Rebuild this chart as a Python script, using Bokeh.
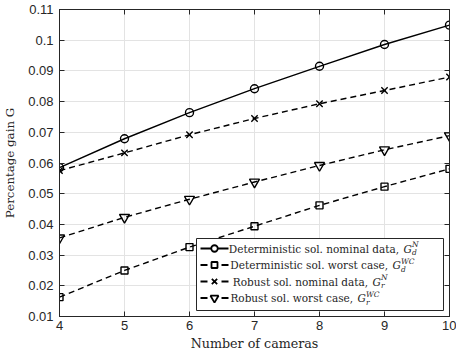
from bokeh.plotting import figure
from bokeh.models import FixedTicker, LinearAxis, Range1d, Label, CustomJSTickFormatter
from bokeh.embed import file_html
from bokeh.resources import INLINE

# ---------------- data ----------------
cameras = [4, 5, 6, 7, 8, 9, 10]
det_nominal = [0.0585, 0.0679, 0.0764, 0.0842, 0.0915, 0.0986, 0.1049]
det_worst = [0.0163, 0.0250, 0.0326, 0.0394, 0.0462, 0.0523, 0.0581]
rob_nominal = [0.0575, 0.0633, 0.0692, 0.0745, 0.0793, 0.0836, 0.0880]
rob_worst = [0.0356, 0.0423, 0.0482, 0.0538, 0.0592, 0.0643, 0.0689]

x_ticks = [4, 5, 6, 7, 8, 9, 10]
y_ticks = [0.01, 0.02, 0.03, 0.04, 0.05, 0.06, 0.07, 0.08, 0.09, 0.10, 0.11]
y_tick_labels = ["0.01", "0.02", "0.03", "0.04", "0.05", "0.06", "0.07",
                 "0.08", "0.09", "0.1", "0.11"]

legend_main = ["Deterministic sol. nominal data, ",
               "Deterministic sol. worst case, ",
               "Robust sol. nominal data, ",
               "Robust sol. worst case, "]
legend_sub = ["d", "d", "r", "r"]
legend_sup = ["N", "WC", "N", "WC"]

# ---------------- layout (pixels) ----------------
W, H = 456, 356
FL, FR, FT, FB = 59, 449, 9, 316
X0, X1, Y0, Y1 = 4, 10, 0.01, 0.11


def dx(px):
    return X0 + (px - FL) / (FR - FL) * (X1 - X0)


def dy(py):
    return Y1 - (py - FT) / (FB - FT) * (Y1 - Y0)


TICK_FONT = "Liberation Sans"
SERIF = "DejaVu Serif"
INK = "#262626"

p = figure(width=W, height=H, output_backend="svg", toolbar_location=None,
           x_range=Range1d(X0, X1), y_range=Range1d(Y0, Y1),
           min_border_left=FL, min_border_right=W - FR,
           min_border_top=FT, min_border_bottom=H - FB)
p.background_fill_color = "white"
p.border_fill_color = "white"
p.outline_line_color = INK
p.outline_line_width = 1

for ax in (p.xaxis[0], p.yaxis[0]):
    ax.major_tick_in = 5
    ax.major_tick_out = 0
    ax.minor_tick_in = 0
    ax.minor_tick_out = 0
    ax.axis_line_color = INK
    ax.major_tick_line_color = INK
    ax.major_label_text_font = TICK_FONT
    ax.major_label_text_font_size = "13px"
    ax.major_label_text_color = INK
    ax.axis_label_text_font = SERIF
    ax.axis_label_text_font_style = "normal"
    ax.axis_label_text_color = INK

p.xaxis.ticker = FixedTicker(ticks=x_ticks)
p.yaxis.ticker = FixedTicker(ticks=y_ticks)
p.yaxis.major_label_overrides = {t: l for t, l in zip(y_ticks, y_tick_labels)}
p.xaxis.major_label_standoff = 4
p.yaxis.major_label_standoff = 6

p.xaxis.axis_label = "Number of cameras"
p.xaxis.axis_label_text_font_size = "12.7px"
p.xaxis.axis_label_standoff = 3
p.yaxis.axis_label = "Percentage gain G"
p.yaxis.axis_label_text_font_size = "11.8px"
p.yaxis.axis_label_standoff = 8

# box ticks on top/right
for loc, tick_vals in (("above", x_ticks), ("right", y_ticks)):
    a = LinearAxis(ticker=FixedTicker(ticks=tick_vals),
                   formatter=CustomJSTickFormatter(code="return ''"))
    a.major_tick_in = 5
    a.major_tick_out = 0
    a.minor_tick_in = 0
    a.minor_tick_out = 0
    a.major_label_standoff = 0
    a.axis_line_color = INK
    a.major_tick_line_color = INK
    p.add_layout(a, loc)

p.grid.grid_line_color = "#e3e3e3"
p.grid.grid_line_width = 1
p.xgrid.ticker = FixedTicker(ticks=x_ticks)
p.ygrid.ticker = FixedTicker(ticks=y_ticks)

# ---------------- series ----------------
series = [
    (det_nominal, "solid", "circle", 8),
    (det_worst, "6 4", "square", 7),
    (rob_nominal, "6 4", "x", 9),
    (rob_worst, "6 4", "inverted_triangle", 10),
]
for ys, dash, marker, size in series:
    p.line(cameras, ys, line_color="black", line_width=1.4, line_dash=dash)
    p.scatter(cameras, ys, marker=marker, size=size, fill_color=None,
              line_color="black", line_width=1.4)

# ---------------- legend ----------------
LG_L, LG_R, LG_T, LG_B = 196, 443, 238, 310
p.quad(left=[dx(LG_L)], right=[dx(LG_R)], top=[dy(LG_T)], bottom=[dy(LG_B)],
       fill_color="white", fill_alpha=1.0, line_color=INK, line_width=1)

legend_sizes = [6.5, 6, 7.5, 8]
row_y = [248, 264.5, 281, 297.5]
g_x = [403, 392, 372, 357]
for i, (ys, dash, marker, size) in enumerate(series):
    yy = dy(row_y[i])
    p.line([dx(200), dx(228)], [yy, yy], line_color="black", line_width=2,
           line_dash="7 14" if dash != "solid" else dash)
    p.scatter([dx(214)], [yy], marker=marker, size=legend_sizes[i], fill_color="white",
              line_color="black", line_width=1.8)
    p.add_layout(Label(x=dx(g_x[i] - 1), y=yy, text=legend_main[i], text_font=SERIF,
                       text_font_size="10.5px", text_color=INK, text_align="right",
                       text_baseline="middle"))
    p.add_layout(Label(x=dx(g_x[i]), y=yy, text="G", text_font=SERIF,
                       text_font_size="10.5px", text_color=INK, text_font_style="italic",
                       text_align="left", text_baseline="middle"))
    p.add_layout(Label(x=dx(g_x[i] + 8.5), y=dy(row_y[i] - 4), text=legend_sup[i],
                       text_font=SERIF, text_font_size="7.5px", text_color=INK,
                       text_font_style="italic", text_align="left",
                       text_baseline="middle"))
    p.add_layout(Label(x=dx(g_x[i] + 8.5), y=dy(row_y[i] + 4), text=legend_sub[i],
                       text_font=SERIF, text_font_size="7.5px", text_color=INK,
                       text_font_style="italic", text_align="left",
                       text_baseline="middle"))

open("out.html", "w").write(file_html(p, INLINE))
